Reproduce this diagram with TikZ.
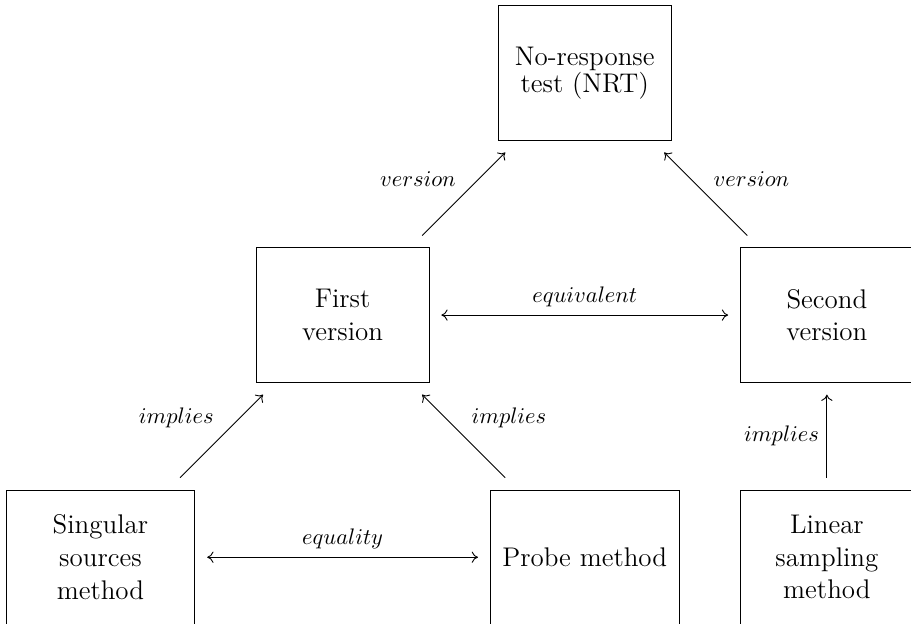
\documentclass[tikz,border=0pt]{standalone}
\usepackage{amsmath,amssymb}
\usetikzlibrary{positioning,arrows.meta,calc}

\begin{document}
\begin{tikzpicture}[
    x=3.785cm,
    y=3.785cm,
    >={To[length=2.8pt,width=5pt]},
    box/.style={
        rectangle,
        draw,
        minimum width=2.7cm,
        minimum height=2.1cm,
        align=center,
        outer sep=5.5pt,
        font=\fontsize{12}{14.5}\selectfont
    },
    method/.style={box, minimum width=2.95cm},
    lbl/.style={font=\normalsize}
]
\useasboundingbox (-1.57cm,-1.03cm) rectangle (12.67cm,8.71cm);

\node[box] (nrt) at (2,2) {No-response\\[-2.5pt]test (NRT)};
\node[box] (first) at (1,1) {First\\version};
\node[box] (second) at (3,1) {Second\\version};
\node[method] (ssm) at (0,0) {Singular\\sources\\method};
\node[method] (probe) at (2,0) {Probe method};
\node[box] (lsm) at (3,0) {Linear\\sampling\\method};

\draw[->] (first) -- node[above left, lbl] {$version$} (nrt);
\draw[->] (second) -- node[above right, lbl] {$version$} (nrt);
\draw[<->] (first) -- node[above, lbl] {$equivalent$} (second);
\draw[->] (ssm) -- node[above left, lbl] {$implies$} (first);
\draw[->] (probe) -- node[above right, lbl] {$implies$} (first);
\draw[->] (lsm) -- node[left, lbl] {$implies$} (second);
\draw[<->] (ssm) -- node[above, lbl] {$equality$} (probe);

\end{tikzpicture}
\end{document}
